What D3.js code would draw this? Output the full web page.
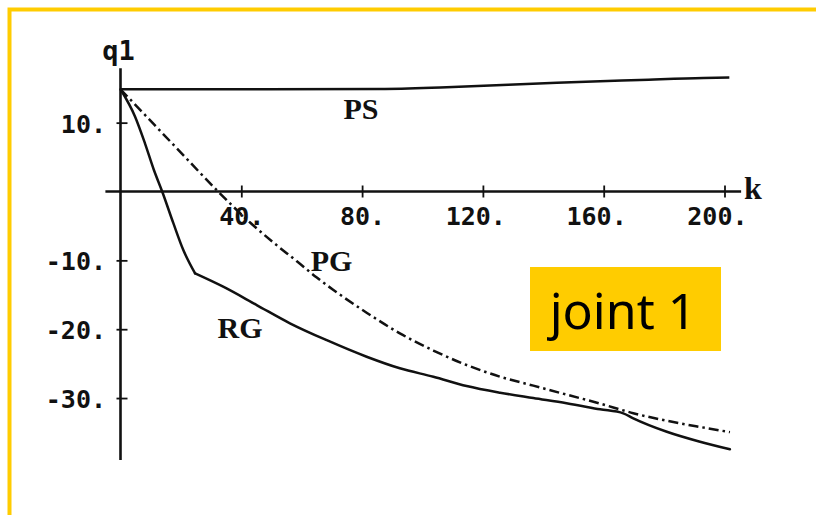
<!DOCTYPE html>
<html>
<head>
<meta charset="utf-8">
<script src="https://cdn.jsdelivr.net/npm/d3@7"></script>
<style>
  html, body { margin: 0; padding: 0; background: #fff; }
  svg { display: block; }
</style>
</head>
<body>
<svg id="chart" width="816" height="515"></svg>
<script>
// Joint 1 trajectories q1 versus step k
const kTicks = [40, 80, 120, 160, 200];
const kTickLabels = ["40.", "80.", "120.", "160.", "200."];
const qTicks = [10, -10, -20, -30];
const qTickLabels = ["10.", "-10.", "-20.", "-30."];

const psK = [0, 86, 108, 144.5, 172, 193, 201.6];
const psQ = [14.85, 14.9, 15.15, 15.8, 16.2, 16.5, 16.55];

const pgK = [0, 10, 20, 32.3, 42.9, 50.6, 58.3, 65, 70.5, 81.5, 92.5, 103.6, 114.6, 125.7, 136.7, 147.7, 158.8, 169.8, 180.9, 191.9, 201.8];
const pgQ = [14.85, 10.25, 5.65, 0, -4.5, -7.4, -10.1, -12.5, -14.3, -17.6, -20.6, -23.1, -25.2, -26.9, -28.2, -29.5, -30.8, -32.2, -33.3, -34.2, -34.95];

// RG has a sharp bend at k = 24.7 (index 7)
const rgK = [0, 4.8, 8.1, 11, 13.8, 17.5, 20.8, 24.7, 34, 45.1, 56.1, 68.3, 81.5, 92.5, 103.6, 114.6, 125.7, 136.7, 147.7, 158.8, 166.5, 169.8, 180.9, 191.9, 201.8];
const rgQ = [14.85, 10.9, 7.0, 3.2, 0, -4.6, -8.5, -11.9, -13.83, -16.49, -19.14, -21.6, -24.0, -25.68, -26.9, -28.25, -29.22, -30.0, -30.76, -31.63, -32.22, -32.94, -34.89, -36.34, -37.44];
const rgBend = 7;

const curveNames = ["PS", "PG", "RG"];
const curveLabelK = [79.6, 69.9, 39.6];
const curveLabelQ = [10.6, -11.55, -21.3];

const svg = d3.select("#chart");

// yellow slide frame
svg.append("rect")
  .attr("x", 9.5).attr("y", 9.5)
  .attr("width", 900).attr("height", 600)
  .attr("fill", "none")
  .attr("stroke", "#FFCC00")
  .attr("stroke-width", 4);

const x = d3.scaleLinear().domain([0, 200]).range([120.5, 724.5]);
const y = d3.scaleLinear().domain([10, -30]).range([122.65, 398.05]);

const ink = "#111";
const monoFont = "'DejaVu Sans Mono', monospace";
const serifFont = "'Liberation Serif', 'Times New Roman', serif";

// axis lines crossing at the origin
svg.append("line")
  .attr("x1", x(-5)).attr("x2", x(205.5))
  .attr("y1", y(0)).attr("y2", y(0))
  .attr("stroke", ink).attr("stroke-width", 2.6);
svg.append("line")
  .attr("x1", x(0)).attr("x2", x(0))
  .attr("y1", y(17.9)).attr("y2", y(-39))
  .attr("stroke", ink).attr("stroke-width", 2.6);

// horizontal axis ticks and labels
const xAxis = d3.axisBottom(x)
  .tickValues(kTicks)
  .tickFormat((d, i) => kTickLabels[i])
  .tickSizeInner(6).tickSizeOuter(0).tickPadding(0);
const gx = svg.append("g").attr("transform", `translate(0,${y(0)})`).call(xAxis);
gx.select(".domain").remove();
gx.selectAll(".tick line").attr("y1", -6).attr("y2", 6).attr("stroke", ink).attr("stroke-width", 1.8);
gx.selectAll(".tick text")
  .attr("fill", ink).attr("y", 33).attr("dy", 0)
  .attr("text-anchor", "end").attr("x", 22.5)
  .style("font-family", monoFont).style("font-size", "25px").style("font-weight", "bold");

// vertical axis ticks and labels
const yAxis = d3.axisLeft(y)
  .tickValues(qTicks)
  .tickFormat((d, i) => qTickLabels[i])
  .tickSizeInner(4).tickSizeOuter(0).tickPadding(0);
const gy = svg.append("g").attr("transform", `translate(${x(0)},0)`).call(yAxis);
gy.select(".domain").remove();
gy.selectAll(".tick line").attr("x1", -4).attr("x2", 7).attr("stroke", ink).attr("stroke-width", 1.8);
gy.selectAll(".tick text")
  .attr("fill", ink).attr("x", -14.5).attr("dy", 9.5)
  .attr("text-anchor", "end")
  .style("font-family", monoFont).style("font-size", "25px").style("font-weight", "bold");

// axis names
svg.append("text").text("q1")
  .attr("x", x(0) - 2).attr("y", 60)
  .attr("text-anchor", "middle").attr("fill", ink)
  .style("font-family", monoFont).style("font-size", "27px").style("font-weight", "bold");
svg.append("text").text("k")
  .attr("x", x(205.5) + 3).attr("y", 199)
  .attr("fill", ink)
  .style("font-family", serifFont).style("font-size", "32px").style("font-weight", "bold");

// curves
const line = d3.line().x(d => x(d[0])).y(d => y(d[1])).curve(d3.curveMonotoneX);
const zip = (ks, qs) => ks.map((k, i) => [k, qs[i]]);
const rg = zip(rgK, rgQ);

svg.append("path").datum(zip(psK, psQ))
  .attr("d", line).attr("fill", "none").attr("stroke", ink).attr("stroke-width", 2.5);
svg.append("path").datum(zip(pgK, pgQ))
  .attr("d", line).attr("fill", "none").attr("stroke", ink).attr("stroke-width", 2.5)
  .attr("stroke-dasharray", "10,4,2.5,4");
[rg.slice(0, rgBend + 1), rg.slice(rgBend)].forEach(part => {
  svg.append("path").datum(part)
    .attr("d", line).attr("fill", "none").attr("stroke", ink).attr("stroke-width", 2.5)
    .attr("stroke-linecap", "round").attr("stroke-linejoin", "round");
});

// curve names
svg.selectAll(".curve-name").data(curveNames).enter().append("text")
  .attr("class", "curve-name")
  .text(d => d)
  .attr("x", (d, i) => x(curveLabelK[i]))
  .attr("y", (d, i) => y(curveLabelQ[i]))
  .attr("text-anchor", "middle").attr("fill", ink)
  .style("font-family", serifFont).style("font-size", "30px").style("font-weight", "bold");

// title tag
svg.append("rect")
  .attr("x", 530).attr("y", 267).attr("width", 191).attr("height", 84)
  .attr("fill", "#FFCC00");
svg.append("text").text("joint 1")
  .attr("x", 623).attr("y", 328.5)
  .attr("text-anchor", "middle").attr("fill", "#000")
  .style("font-family", "'Noto Sans', sans-serif").style("font-size", "50px");
</script>
</body>
</html>
